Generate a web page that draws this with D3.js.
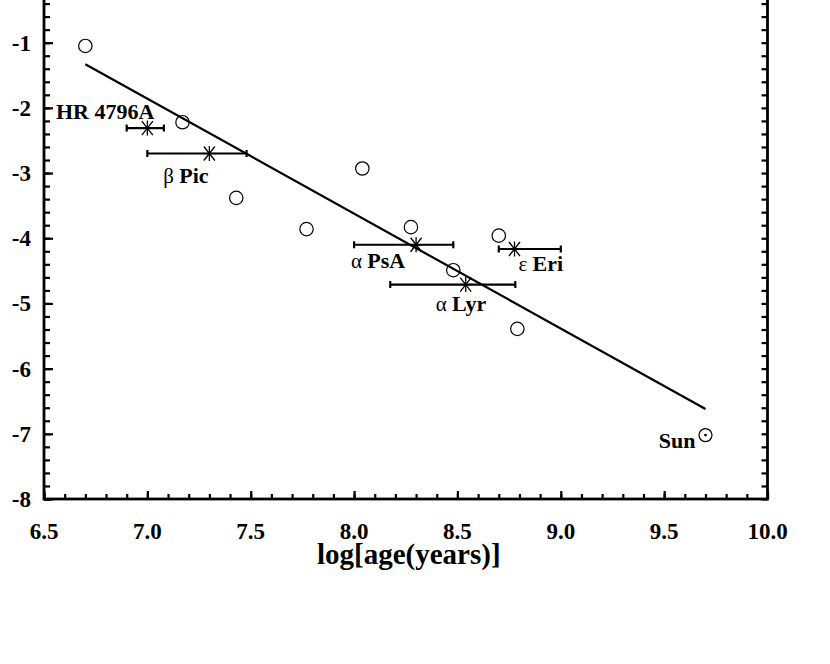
<!DOCTYPE html>
<html>
<head>
<meta charset="utf-8">
<script src="https://cdn.jsdelivr.net/npm/d3@7"></script>
<style>
  body { margin: 0; background: #fff; }
  svg { display: block; }
</style>
</head>
<body>
<div id="chart"></div>
<script>
// open circles: log(age), y value
const circleAge = [6.70, 7.17, 7.43, 7.77, 8.04, 8.275, 8.48, 8.70, 8.79];
const circleVal = [-1.05, -2.22, -3.38, -3.86, -2.93, -3.83, -4.49, -3.96, -5.39];

// asterisks with horizontal error bars
const starNames = ["HR 4796A", "Pic", "PsA", "Eri", "Lyr"];
const starGreek = ["", "\u03B2", "\u03B1", "\u03B5", "\u03B1"];
const starAge   = [7.00, 7.30, 8.30, 8.776, 8.54];
const starVal   = [-2.31, -2.70, -4.10, -4.165, -4.71];
const starLo    = [6.90, 7.00, 8.00, 8.70, 8.175];
const starHi    = [7.08, 7.48, 8.48, 9.00, 8.78];

// the Sun
const sunAge = 9.70, sunVal = -7.02;

// fitted line end points
const fitAge = [6.70, 9.70];
const fitVal = [-1.33, -6.62];

const xTicks = [6.5, 7.0, 7.5, 8.0, 8.5, 9.0, 9.5, 10.0];
const yTicks = [-1, -2, -3, -4, -5, -6, -7, -8];

const W = 830, H = 664;
const margin = { top: -22.5, left: 44, right: 62.5, bottom: 165 };
const iw = W - margin.left - margin.right;
const ih = H - margin.top - margin.bottom;

const svg = d3.select("#chart").append("svg")
  .attr("width", W).attr("height", H);
const g = svg.append("g")
  .attr("transform", "translate(" + margin.left + "," + margin.top + ")");

const x = d3.scaleLinear().domain([6.5, 10]).range([0, iw]);
const y = d3.scaleLinear().domain([-8, 0]).range([ih, 0]);

const serif = "'Liberation Serif', 'Times New Roman', serif";

// minor ticks
const xMinor = d3.range(65, 101).map(v => v / 10);
const yMinor = d3.range(-40, 1).map(v => v / 5);

function axisStyle(sel) {
  sel.selectAll("path").remove();
  sel.selectAll("line").attr("stroke", "#000").attr("stroke-width", 2.2);
  sel.selectAll("text").remove();
}

g.append("g").attr("transform", "translate(0," + ih + ")")
  .call(d3.axisBottom(x).tickValues(xMinor).tickSize(-5)).call(axisStyle);
g.append("g").attr("transform", "translate(0," + ih + ")")
  .call(d3.axisBottom(x).tickValues(xTicks).tickSize(-8)).call(axisStyle);
g.append("g")
  .call(d3.axisLeft(y).tickValues(yMinor).tickSize(-6)).call(axisStyle);
g.append("g")
  .call(d3.axisLeft(y).tickValues(yTicks).tickSize(-9)).call(axisStyle);
g.append("g").attr("transform", "translate(" + iw + ",0)")
  .call(d3.axisRight(y).tickValues(yMinor).tickSize(-6)).call(axisStyle);
g.append("g").attr("transform", "translate(0,0)")
  .call(d3.axisTop(x).tickValues(xMinor).tickSize(-5)).call(axisStyle);

// frame
g.append("rect")
  .attr("x", 0).attr("y", 0).attr("width", iw).attr("height", ih)
  .attr("fill", "none").attr("stroke", "#000").attr("stroke-width", 2.8);

// tick labels
g.selectAll(".xl").data(xTicks).enter().append("text")
  .attr("x", d => x(d)).attr("y", ih + 40)
  .attr("text-anchor", "middle")
  .attr("font-family", serif).attr("font-weight", "bold").attr("font-size", 23)
  .text(d => d.toFixed(1));

g.selectAll(".yl").data(yTicks).enter().append("text")
  .attr("x", -13).attr("y", d => y(d) + 8)
  .attr("text-anchor", "end")
  .attr("font-family", serif).attr("font-weight", "bold").attr("font-size", 23)
  .text(d => d);

// axis title
g.append("text")
  .attr("x", iw / 2 + 3).attr("y", ih + 65)
  .attr("text-anchor", "middle")
  .attr("font-family", serif).attr("font-weight", "bold").attr("font-size", 29)
  .text("log[age(years)]");

// fit line
g.append("line")
  .attr("x1", x(fitAge[0])).attr("y1", y(fitVal[0]))
  .attr("x2", x(fitAge[1])).attr("y2", y(fitVal[1]))
  .attr("stroke", "#000").attr("stroke-width", 2.2);

// open circles
g.selectAll(".pt").data(circleAge).enter().append("circle")
  .attr("cx", d => x(d)).attr("cy", (d, i) => y(circleVal[i]))
  .attr("r", 6.7)
  .attr("fill", "none").attr("stroke", "#000").attr("stroke-width", 1.2);

// stars with error bars
const stars = starNames.map((n, i) => ({
  name: n, greek: starGreek[i], age: starAge[i], val: starVal[i], lo: starLo[i], hi: starHi[i]
}));

const sg = g.selectAll(".star").data(stars).enter().append("g");
sg.append("line")
  .attr("x1", d => x(d.lo)).attr("x2", d => x(d.hi))
  .attr("y1", d => y(d.val)).attr("y2", d => y(d.val))
  .attr("stroke", "#000").attr("stroke-width", 2.2);
[["lo"], ["hi"]].forEach(([k]) => {
  sg.append("line")
    .attr("x1", d => x(d[k])).attr("x2", d => x(d[k]))
    .attr("y1", d => y(d.val) - 3.5).attr("y2", d => y(d.val) + 3.5)
    .attr("stroke", "#000").attr("stroke-width", 2.2);
});
const arms = [[0, 7.5], [5.5, 7], [-5.5, 7], [7, 0]];
arms.forEach(([dx, dy]) => {
  sg.append("line")
    .attr("x1", d => x(d.age) - dx).attr("x2", d => x(d.age) + dx)
    .attr("y1", d => y(d.val) - dy).attr("y2", d => y(d.val) + dy)
    .attr("stroke", "#000").attr("stroke-width", 1.3);
});

// label offsets (px) from each star
const labelOff = {
  "HR 4796A": [7, -9, "end"],
  "Pic": [-46, 29, "start"],
  "PsA": [-65, 23, "start"],
  "Eri": [4, 22, "start"],
  "Lyr": [-30, 26, "start"]
};
sg.append("text")
  .attr("x", d => x(d.age) + labelOff[d.name][0])
  .attr("y", d => y(d.val) + labelOff[d.name][1])
  .attr("text-anchor", d => labelOff[d.name][2])
  .attr("font-family", serif).attr("font-size", 21)
  .each(function(d) {
    const t = d3.select(this);
    if (d.greek) t.append("tspan").text(d.greek + " ");
    t.append("tspan").attr("font-weight", "bold").attr("font-size", 22).text(d.name);
  });

// Sun
g.append("circle")
  .attr("cx", x(sunAge)).attr("cy", y(sunVal)).attr("r", 6.5)
  .attr("fill", "none").attr("stroke", "#000").attr("stroke-width", 1.2);
g.append("circle")
  .attr("cx", x(sunAge)).attr("cy", y(sunVal)).attr("r", 1.4)
  .attr("fill", "#000");
g.append("text")
  .attr("x", x(sunAge) - 10).attr("y", y(sunVal) + 13)
  .attr("text-anchor", "end")
  .attr("font-family", serif).attr("font-weight", "bold").attr("font-size", 22)
  .text("Sun");
</script>
</body>
</html>
